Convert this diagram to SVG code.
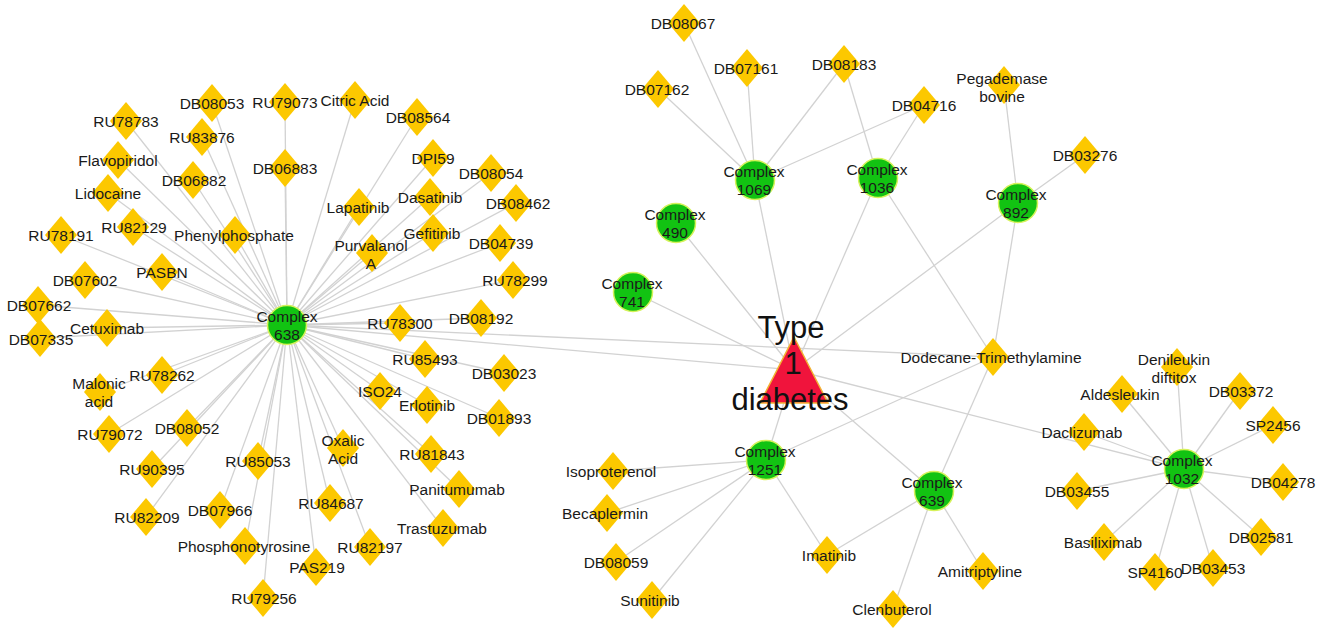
<svg xmlns="http://www.w3.org/2000/svg" xmlns:xlink="http://www.w3.org/1999/xlink" width="1324" height="629" viewBox="0 0 1324 629">
<style>
.e{stroke:#d2d2d2;stroke-width:1.3;fill:none}
.d{fill:#FCC800}
.c{fill:#12C312;stroke:#D6F25A;stroke-width:1.5}
.t{font-family:"Liberation Sans",Arial,sans-serif;font-size:15.5px;fill:#1a1a1a;text-anchor:middle}
.big{font-family:"Liberation Sans",Arial,sans-serif;font-size:31px;fill:#111;text-anchor:middle}
</style>
<defs>
<path id="dia" d="M0,-19 L16,0 L0,19 L-16,0Z" class="d"/>
<circle id="cir" r="19.5" cx="0" cy="0" class="c"/>
</defs>
<rect width="1324" height="629" fill="#fff"/>
<g id="connectors" class="e">
<line x1="287" y1="325" x2="126" y2="121"/>
<line x1="287" y1="325" x2="212" y2="103"/>
<line x1="287" y1="325" x2="285" y2="102"/>
<line x1="287" y1="325" x2="355" y2="100"/>
<line x1="287" y1="325" x2="202" y2="137"/>
<line x1="287" y1="325" x2="417" y2="117"/>
<line x1="287" y1="325" x2="118" y2="160"/>
<line x1="287" y1="325" x2="193" y2="180"/>
<line x1="287" y1="325" x2="285" y2="168"/>
<line x1="287" y1="325" x2="433" y2="158"/>
<line x1="287" y1="325" x2="491" y2="173"/>
<line x1="287" y1="325" x2="108" y2="193"/>
<line x1="287" y1="325" x2="359" y2="207"/>
<line x1="287" y1="325" x2="430" y2="197"/>
<line x1="287" y1="325" x2="516" y2="203"/>
<line x1="287" y1="325" x2="133" y2="227"/>
<line x1="287" y1="325" x2="61" y2="235"/>
<line x1="287" y1="325" x2="235" y2="235"/>
<line x1="287" y1="325" x2="433" y2="233"/>
<line x1="287" y1="325" x2="372" y2="253"/>
<line x1="287" y1="325" x2="500" y2="243"/>
<line x1="287" y1="325" x2="162" y2="272"/>
<line x1="287" y1="325" x2="85" y2="280"/>
<line x1="287" y1="325" x2="513" y2="280"/>
<line x1="287" y1="325" x2="38" y2="305"/>
<line x1="287" y1="325" x2="107" y2="328"/>
<line x1="287" y1="325" x2="40" y2="338"/>
<line x1="287" y1="325" x2="400" y2="323"/>
<line x1="287" y1="325" x2="481" y2="318"/>
<line x1="287" y1="325" x2="425" y2="359"/>
<line x1="287" y1="325" x2="162" y2="375"/>
<line x1="287" y1="325" x2="504" y2="373"/>
<line x1="287" y1="325" x2="100" y2="392"/>
<line x1="287" y1="325" x2="380" y2="391"/>
<line x1="287" y1="325" x2="427" y2="405"/>
<line x1="287" y1="325" x2="499" y2="418"/>
<line x1="287" y1="325" x2="109" y2="434"/>
<line x1="287" y1="325" x2="187" y2="428"/>
<line x1="287" y1="325" x2="343" y2="448"/>
<line x1="287" y1="325" x2="431" y2="454"/>
<line x1="287" y1="325" x2="258" y2="461"/>
<line x1="287" y1="325" x2="152" y2="469"/>
<line x1="287" y1="325" x2="459" y2="489"/>
<line x1="287" y1="325" x2="330" y2="503"/>
<line x1="287" y1="325" x2="220" y2="510"/>
<line x1="287" y1="325" x2="146" y2="517"/>
<line x1="287" y1="325" x2="443" y2="528"/>
<line x1="287" y1="325" x2="245" y2="546"/>
<line x1="287" y1="325" x2="370" y2="547"/>
<line x1="287" y1="325" x2="316" y2="567"/>
<line x1="287" y1="325" x2="263" y2="598"/>
<line x1="287" y1="325" x2="794" y2="370"/>
<line x1="287" y1="325" x2="993" y2="357"/>
<line x1="755" y1="180" x2="684" y2="23"/>
<line x1="755" y1="180" x2="747" y2="68"/>
<line x1="755" y1="180" x2="658" y2="89"/>
<line x1="755" y1="180" x2="844" y2="64"/>
<line x1="755" y1="180" x2="924" y2="105"/>
<line x1="755" y1="180" x2="794" y2="370"/>
<line x1="878" y1="178" x2="844" y2="64"/>
<line x1="878" y1="178" x2="924" y2="105"/>
<line x1="878" y1="178" x2="794" y2="370"/>
<line x1="878" y1="178" x2="993" y2="357"/>
<line x1="676" y1="223" x2="794" y2="370"/>
<line x1="633" y1="292" x2="794" y2="370"/>
<line x1="1018" y1="203" x2="1004" y2="85"/>
<line x1="1018" y1="203" x2="1085" y2="155"/>
<line x1="1018" y1="203" x2="794" y2="370"/>
<line x1="1018" y1="203" x2="993" y2="357"/>
<line x1="766" y1="460" x2="794" y2="370"/>
<line x1="766" y1="460" x2="993" y2="357"/>
<line x1="766" y1="460" x2="613" y2="471"/>
<line x1="766" y1="460" x2="607" y2="513"/>
<line x1="766" y1="460" x2="616" y2="562"/>
<line x1="766" y1="460" x2="652" y2="600"/>
<line x1="766" y1="460" x2="827" y2="555"/>
<line x1="934" y1="491" x2="794" y2="370"/>
<line x1="934" y1="491" x2="993" y2="357"/>
<line x1="934" y1="491" x2="827" y2="555"/>
<line x1="934" y1="491" x2="893" y2="609"/>
<line x1="934" y1="491" x2="983" y2="571"/>
<line x1="1184" y1="469" x2="794" y2="370"/>
<line x1="1184" y1="469" x2="1177" y2="367"/>
<line x1="1184" y1="469" x2="1122" y2="394"/>
<line x1="1184" y1="469" x2="1240" y2="391"/>
<line x1="1184" y1="469" x2="1273" y2="425"/>
<line x1="1184" y1="469" x2="1084" y2="432"/>
<line x1="1184" y1="469" x2="1283" y2="482"/>
<line x1="1184" y1="469" x2="1077" y2="491"/>
<line x1="1184" y1="469" x2="1261" y2="537"/>
<line x1="1184" y1="469" x2="1104" y2="542"/>
<line x1="1184" y1="469" x2="1155" y2="572"/>
<line x1="1184" y1="469" x2="1213" y2="568"/>
</g>
<g id="drugs" class="t">
<g id="n-RU78783"><use href="#dia" x="126" y="121"/><text x="126" y="126.5">RU78783</text></g>
<g id="n-DB08053"><use href="#dia" x="212" y="103"/><text x="212" y="108.5">DB08053</text></g>
<g id="n-RU79073"><use href="#dia" x="285" y="102"/><text x="285" y="107.5">RU79073</text></g>
<g id="n-CitricAcid"><use href="#dia" x="355" y="100"/><text x="355" y="105.5">Citric Acid</text></g>
<g id="n-RU83876"><use href="#dia" x="202" y="137"/><text x="202" y="142.5">RU83876</text></g>
<g id="n-DB08564"><use href="#dia" x="417" y="117"/><text x="418" y="122.5">DB08564</text></g>
<g id="n-Flavopiridol"><use href="#dia" x="118" y="160"/><text x="118" y="166">Flavopiridol</text></g>
<g id="n-DB06882"><use href="#dia" x="193" y="180"/><text x="194" y="185.5">DB06882</text></g>
<g id="n-DB06883"><use href="#dia" x="285" y="168"/><text x="285" y="173.5">DB06883</text></g>
<g id="n-DPI59"><use href="#dia" x="433" y="158"/><text x="433" y="163.5">DPI59</text></g>
<g id="n-DB08054"><use href="#dia" x="491" y="173"/><text x="491" y="178.5">DB08054</text></g>
<g id="n-Lidocaine"><use href="#dia" x="108" y="193"/><text x="108" y="198.5">Lidocaine</text></g>
<g id="n-Lapatinib"><use href="#dia" x="359" y="207"/><text x="358" y="212.5">Lapatinib</text></g>
<g id="n-Dasatinib"><use href="#dia" x="430" y="197"/><text x="430" y="202.5">Dasatinib</text></g>
<g id="n-DB08462"><use href="#dia" x="516" y="203"/><text x="518" y="208.5">DB08462</text></g>
<g id="n-RU82129"><use href="#dia" x="133" y="227"/><text x="134" y="232.5">RU82129</text></g>
<g id="n-RU78191"><use href="#dia" x="61" y="235"/><text x="61" y="240.5">RU78191</text></g>
<g id="n-Phenylphosphate"><use href="#dia" x="235" y="235"/><text x="234" y="240.5">Phenylphosphate</text></g>
<g id="n-Gefitinib"><use href="#dia" x="433" y="233"/><text x="432" y="238.5">Gefitinib</text></g>
<g id="n-PurvalanolA"><use href="#dia" x="372" y="253"/><text x="371" y="250.5">Purvalanol</text><text x="371" y="268.5">A</text></g>
<g id="n-DB04739"><use href="#dia" x="500" y="243"/><text x="501" y="248.5">DB04739</text></g>
<g id="n-PASBN"><use href="#dia" x="162" y="272"/><text x="162" y="277.5">PASBN</text></g>
<g id="n-DB07602"><use href="#dia" x="85" y="280"/><text x="85" y="285.5">DB07602</text></g>
<g id="n-RU78299"><use href="#dia" x="513" y="280"/><text x="515" y="285.5">RU78299</text></g>
<g id="n-DB07662"><use href="#dia" x="38" y="305"/><text x="39" y="310.5">DB07662</text></g>
<g id="n-Cetuximab"><use href="#dia" x="107" y="328"/><text x="107" y="333.5">Cetuximab</text></g>
<g id="n-DB07335"><use href="#dia" x="40" y="338"/><text x="41" y="345">DB07335</text></g>
<g id="n-RU78300"><use href="#dia" x="400" y="323"/><text x="400" y="328.5">RU78300</text></g>
<g id="n-DB08192"><use href="#dia" x="481" y="318"/><text x="481" y="323.5">DB08192</text></g>
<g id="n-RU85493"><use href="#dia" x="425" y="359"/><text x="425" y="364.5">RU85493</text></g>
<g id="n-RU78262"><use href="#dia" x="162" y="375"/><text x="162" y="380.5">RU78262</text></g>
<g id="n-DB03023"><use href="#dia" x="504" y="373"/><text x="504" y="378.5">DB03023</text></g>
<g id="n-MalonicAcid"><use href="#dia" x="100" y="392"/><text x="99" y="388.5">Malonic</text><text x="99" y="406.5">acid</text></g>
<g id="n-ISO24"><use href="#dia" x="380" y="391"/><text x="380" y="396.5">ISO24</text></g>
<g id="n-Erlotinib"><use href="#dia" x="427" y="405"/><text x="427" y="410.5">Erlotinib</text></g>
<g id="n-DB01893"><use href="#dia" x="499" y="418"/><text x="499" y="423.5">DB01893</text></g>
<g id="n-RU79072"><use href="#dia" x="109" y="434"/><text x="110" y="439.5">RU79072</text></g>
<g id="n-DB08052"><use href="#dia" x="187" y="428"/><text x="187" y="433.5">DB08052</text></g>
<g id="n-OxalicAcid"><use href="#dia" x="343" y="448"/><text x="343" y="445.5">Oxalic</text><text x="343" y="463.5">Acid</text></g>
<g id="n-RU81843"><use href="#dia" x="431" y="454"/><text x="432" y="459.5">RU81843</text></g>
<g id="n-RU85053"><use href="#dia" x="258" y="461"/><text x="258" y="466.5">RU85053</text></g>
<g id="n-RU90395"><use href="#dia" x="152" y="469"/><text x="152" y="474.5">RU90395</text></g>
<g id="n-Panitumumab"><use href="#dia" x="459" y="489"/><text x="457" y="494.5">Panitumumab</text></g>
<g id="n-RU84687"><use href="#dia" x="330" y="503"/><text x="331" y="508.5">RU84687</text></g>
<g id="n-DB07966"><use href="#dia" x="220" y="510"/><text x="220" y="515.5">DB07966</text></g>
<g id="n-RU82209"><use href="#dia" x="146" y="517"/><text x="147" y="522.5">RU82209</text></g>
<g id="n-Trastuzumab"><use href="#dia" x="443" y="528"/><text x="442" y="533.5">Trastuzumab</text></g>
<g id="n-Phosphonotyrosine"><use href="#dia" x="245" y="546"/><text x="244" y="551.5">Phosphonotyrosine</text></g>
<g id="n-RU82197"><use href="#dia" x="370" y="547"/><text x="370" y="552.5">RU82197</text></g>
<g id="n-PAS219"><use href="#dia" x="316" y="567"/><text x="317" y="572.5">PAS219</text></g>
<g id="n-RU79256"><use href="#dia" x="263" y="598"/><text x="264" y="603.5">RU79256</text></g>
<g id="n-DB08067"><use href="#dia" x="684" y="23"/><text x="683" y="28.5">DB08067</text></g>
<g id="n-DB07161"><use href="#dia" x="747" y="68"/><text x="746" y="73.5">DB07161</text></g>
<g id="n-DB08183"><use href="#dia" x="844" y="64"/><text x="844" y="69.5">DB08183</text></g>
<g id="n-DB07162"><use href="#dia" x="658" y="89"/><text x="657" y="94.5">DB07162</text></g>
<g id="n-DB04716"><use href="#dia" x="924" y="105"/><text x="924" y="110.5">DB04716</text></g>
<g id="n-Pegademase"><use href="#dia" x="1004" y="85"/><text x="1002" y="83.5">Pegademase</text><text x="1002" y="101.5">bovine</text></g>
<g id="n-DB03276"><use href="#dia" x="1085" y="155"/><text x="1085" y="160.5">DB03276</text></g>
<g id="n-Dodecane"><use href="#dia" x="993" y="357"/><text x="991" y="362.5">Dodecane-Trimethylamine</text></g>
<g id="n-Isoproterenol"><use href="#dia" x="613" y="471"/><text x="611" y="476.5">Isoproterenol</text></g>
<g id="n-Becaplermin"><use href="#dia" x="607" y="513"/><text x="605" y="518.5">Becaplermin</text></g>
<g id="n-DB08059"><use href="#dia" x="616" y="562"/><text x="616" y="567.5">DB08059</text></g>
<g id="n-Sunitinib"><use href="#dia" x="652" y="600"/><text x="650" y="605.5">Sunitinib</text></g>
<g id="n-Imatinib"><use href="#dia" x="827" y="555"/><text x="829" y="560.5">Imatinib</text></g>
<g id="n-Clenbuterol"><use href="#dia" x="893" y="609"/><text x="892" y="615">Clenbuterol</text></g>
<g id="n-Amitriptyline"><use href="#dia" x="983" y="571"/><text x="980" y="576.5">Amitriptyline</text></g>
<g id="n-Denileukin"><use href="#dia" x="1177" y="367"/><text x="1174" y="364.5">Denileukin</text><text x="1174" y="382.5">diftitox</text></g>
<g id="n-Aldesleukin"><use href="#dia" x="1122" y="394"/><text x="1120" y="399.5">Aldesleukin</text></g>
<g id="n-DB03372"><use href="#dia" x="1240" y="391"/><text x="1241" y="396.5">DB03372</text></g>
<g id="n-SP2456"><use href="#dia" x="1273" y="425"/><text x="1273" y="430.5">SP2456</text></g>
<g id="n-Daclizumab"><use href="#dia" x="1084" y="432"/><text x="1082" y="437.5">Daclizumab</text></g>
<g id="n-DB04278"><use href="#dia" x="1283" y="482"/><text x="1283" y="487.5">DB04278</text></g>
<g id="n-DB03455"><use href="#dia" x="1077" y="491"/><text x="1077" y="496.5">DB03455</text></g>
<g id="n-DB02581"><use href="#dia" x="1261" y="537"/><text x="1261" y="542.5">DB02581</text></g>
<g id="n-Basiliximab"><use href="#dia" x="1104" y="542"/><text x="1103" y="547.5">Basiliximab</text></g>
<g id="n-SP4160"><use href="#dia" x="1155" y="572"/><text x="1155" y="577.5">SP4160</text></g>
<g id="n-DB03453"><use href="#dia" x="1213" y="568"/><text x="1213" y="573.5">DB03453</text></g>
</g>
<g id="complexes" class="t">
<g id="c-638"><use href="#cir" x="287" y="325"/><text x="287" y="322">Complex</text><text x="287" y="340">638</text></g>
<g id="c-1069"><use href="#cir" x="755" y="180"/><text x="754" y="177">Complex</text><text x="754" y="195">1069</text></g>
<g id="c-1036"><use href="#cir" x="878" y="178"/><text x="877" y="175">Complex</text><text x="877" y="193">1036</text></g>
<g id="c-490"><use href="#cir" x="676" y="223"/><text x="675" y="220">Complex</text><text x="675" y="238">490</text></g>
<g id="c-741"><use href="#cir" x="633" y="292"/><text x="632" y="289">Complex</text><text x="632" y="307">741</text></g>
<g id="c-892"><use href="#cir" x="1018" y="203"/><text x="1016" y="200">Complex</text><text x="1016" y="218">892</text></g>
<g id="c-1251"><use href="#cir" x="766" y="460"/><text x="765" y="457">Complex</text><text x="765" y="475">1251</text></g>
<g id="c-639"><use href="#cir" x="934" y="491"/><text x="932" y="488">Complex</text><text x="932" y="506">639</text></g>
<g id="c-1032"><use href="#cir" x="1184" y="469"/><text x="1182" y="466">Complex</text><text x="1182" y="484">1032</text></g>
</g>
<g id="t1d">
<polygon points="794,337 828,403 760,403" fill="#F0143C" stroke="#F2B233" stroke-width="1.5"/>
<text class="big" x="791" y="338">Type</text>
<text class="big" x="793" y="374">1</text>
<text class="big" x="790" y="410">diabetes</text>
</g>
</svg>
